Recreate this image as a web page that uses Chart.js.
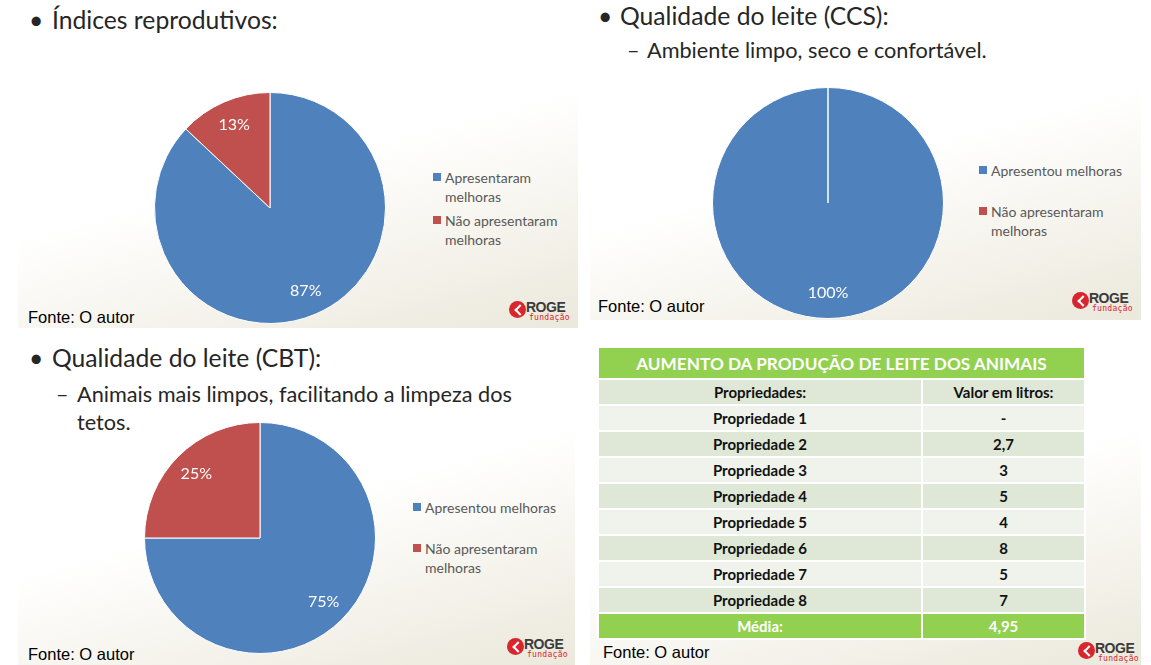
<!DOCTYPE html>
<html>
<head>
<meta charset="utf-8">
<script src="https://cdn.jsdelivr.net/npm/chart.js@4.4.1/dist/chart.umd.min.js"></script>
<style>
  html, body { margin: 0; padding: 0; background: #fff; }
  body { width: 1151px; height: 665px; position: relative; overflow: hidden; font-family: Lato, "Open Sans", sans-serif; }
  .panel { position: absolute; background: linear-gradient(165deg, #ffffff 0%, #ffffff 50%, #f4f2ea 78%, #ebe8dc 100%); }
  .abs { position: absolute; white-space: nowrap; }
  .titulo { font-size: 24.7px; color: #262626; }
  .sub { font-size: 21.7px; color: #262626; }
  .fonte { font-family: "Liberation Sans", Arial, sans-serif; font-size: 16.5px; color: #000; }
  .legenda { position: absolute; font-size: 14px; color: #595959; line-height: 19px; }
  .legenda .item { position: relative; padding-left: 12px; }
  .legenda .sq { position: absolute; left: 0; top: 5px; width: 8px; height: 8px; }
  .logo { position: absolute; width: 62px; height: 24px; }
  .logo .circ { position: absolute; left: 0; top: 2px; width: 17px; height: 17px; border-radius: 50%; background: #d7262e; }
  .logo .circ::after { content: ''; position: absolute; left: 7px; top: 5px; width: 6px; height: 6px; border-top: 2px solid #fff; border-right: 2px solid #fff; transform: rotate(-135deg); }
  .logo .roge { position: absolute; left: 17px; top: 0; font: bold 14px "Liberation Sans", Arial, sans-serif; color: #3b3b3b; letter-spacing: -0.5px; }
  .logo .fund { position: absolute; left: 20px; top: 14px; font: 8px "DejaVu Sans Mono", monospace; color: #d7262e; letter-spacing: 0.3px; }
  canvas { position: absolute; }
  table { position: absolute; left: 597px; top: 346px; width: 489px; border-collapse: collapse; font-weight: bold; font-size: 15px; }
  td { text-align: center; border: 2px solid #fff; padding: 0; height: 24px; color: #111; }
  td.c1 { width: 322px; }
  tr.tit td { background: #92d050; color: #fff; font-size: 17.2px; height: 30px; }
  tr.esc td { background: #dfe8d6; }
  tr.cla td { background: #eff3eb; }
  tr.med td { background: #92d050; color: #fff; }
</style>
</head>
<body>
<div class="panel" style="left:18px; top:0; width:560px; height:328px;"></div>
<div class="panel" style="left:590px; top:0; width:551px; height:320px;"></div>
<div class="panel" style="left:18px; top:340px; width:557px; height:325px;"></div>
<div class="panel" style="left:590px; top:340px; width:551px; height:325px;"></div>

<div class="abs titulo" style="left:29px; top:5px;">•</div>
<div class="abs titulo" style="left:52px; top:5px;">Índices reprodutivos:</div>
<div class="abs titulo" style="left:598px; top:1px;">•</div>
<div class="abs titulo" style="left:620px; top:1px;">Qualidade do leite (CCS):</div>
<div class="abs sub" style="left:627px; top:37px;">–</div>
<div class="abs sub" style="left:647px; top:37px;">Ambiente limpo, seco e confortável.</div>
<div class="abs titulo" style="left:29px; top:343px;">•</div>
<div class="abs titulo" style="left:52px; top:343px;">Qualidade do leite (CBT):</div>
<div class="abs sub" style="left:56px; top:381px;">–</div>
<div class="abs sub" style="left:77px; top:381px;">Animais mais limpos, facilitando a limpeza dos</div>
<div class="abs sub" style="left:77px; top:409px;">tetos.</div>

<canvas id="pie1" width="232" height="232" style="left:154px; top:92px;"></canvas>
<canvas id="pie2" width="232" height="232" style="left:712px; top:87px;"></canvas>
<canvas id="pie3" width="232" height="232" style="left:144px; top:422px;"></canvas>

<div class="legenda" id="leg1" style="left:433px; top:168px;"></div>
<div class="legenda" id="leg2" style="left:979px; top:161px;"></div>
<div class="legenda" id="leg3" style="left:413px; top:498px;"></div>

<div class="abs fonte" style="left:28px; top:308px;">Fonte: O autor</div>
<div class="abs fonte" style="left:598px; top:297px;">Fonte: O autor</div>
<div class="abs fonte" style="left:28px; top:645px;">Fonte: O autor</div>
<div class="abs fonte" style="left:603px; top:643px;">Fonte: O autor</div>

<div class="logo" style="left:509px; top:299px;"><span class="circ"></span><span class="roge">ROGE</span><span class="fund">fundação</span></div>
<div class="logo" style="left:1072px; top:290px;"><span class="circ"></span><span class="roge">ROGE</span><span class="fund">fundação</span></div>
<div class="logo" style="left:507px; top:636px;"><span class="circ"></span><span class="roge">ROGE</span><span class="fund">fundação</span></div>
<div class="logo" style="left:1078px; top:640px;"><span class="circ"></span><span class="roge">ROGE</span><span class="fund">fundação</span></div>

<table id="tabela"></table>

<script>
// dados
const reprodLabels = [['Apresentaram', 'melhoras'], ['Não apresentaram', 'melhoras']];
const reprodValores = [87, 13];
const ccsLabels = [['Apresentou melhoras'], ['Não apresentaram', 'melhoras']];
const ccsValores = [100, 0];
const cbtLabels = [['Apresentou melhoras'], ['Não apresentaram', 'melhoras']];
const cbtValores = [75, 25];
const cores = ['#4f81bd', '#c0504d'];

const tabelaTitulo = 'AUMENTO DA PRODUÇÃO DE LEITE DOS ANIMAIS';
const colunas = ['Propriedades:', 'Valor em litros:'];
const propriedades = ['Propriedade  1', 'Propriedade  2', 'Propriedade  3', 'Propriedade  4', 'Propriedade  5', 'Propriedade  6', 'Propriedade  7', 'Propriedade  8'];
const litros = ['-', '2,7', '3', '5', '4', '8', '5', '7'];
const media = ['Média:', '4,95'];

// rotulos de porcentagem dentro das fatias
const rotulosPct = {
  id: 'rotulosPct',
  afterDatasetsDraw(chart) {
    const ctx = chart.ctx;
    const meta = chart.getDatasetMeta(0);
    const dados = chart.data.datasets[0].data;
    const total = dados.reduce((a, b) => a + b, 0);
    ctx.save();
    ctx.font = '16px Lato, sans-serif';
    ctx.fillStyle = '#fff';
    ctx.textAlign = 'center';
    ctx.textBaseline = 'middle';
    meta.data.forEach((arc, i) => {
      if (!dados[i]) return;
      const p = arc.getProps(['x', 'y', 'startAngle', 'endAngle', 'outerRadius'], true);
      const meio = (p.startAngle + p.endAngle) / 2;
      const r = p.outerRadius * 0.78;
      ctx.fillText(Math.round(dados[i] / total * 100) + '%', p.x + Math.cos(meio) * r, p.y + Math.sin(meio) * r);
    });
    ctx.restore();
  }
};

function pizza(id, labels, valores, legId) {
  new Chart(document.getElementById(id), {
    type: 'pie',
    data: {
      labels: labels.map(l => l.join(' ')),
      datasets: [{ data: valores, backgroundColor: cores, borderColor: '#fff', borderWidth: 1 }]
    },
    options: {
      responsive: false,
      animation: false,
      layout: { padding: 0 },
      plugins: { legend: { display: false }, tooltip: { enabled: false } }
    },
    plugins: [rotulosPct]
  });
  const leg = document.getElementById(legId);
  leg.innerHTML = labels.map((l, i) => `
    <div class="item" style="margin-bottom:${i === 0 ? (l.length === 1 ? 22 : 5) : 0}px">
      <span class="sq" style="background:${cores[i]}"></span>${l.join('<br>')}
    </div>`).join('');
}

pizza('pie1', reprodLabels, reprodValores, 'leg1');
pizza('pie2', ccsLabels, ccsValores, 'leg2');
pizza('pie3', cbtLabels, cbtValores, 'leg3');

const tab = document.getElementById('tabela');
tab.innerHTML = `
  <tr class="tit"><td colspan="2">${tabelaTitulo}</td></tr>
  <tr class="esc"><td class="c1">${colunas[0]}</td><td>${colunas[1]}</td></tr>
  ${propriedades.map((p, i) => `<tr class="${i % 2 ? 'esc' : 'cla'}"><td class="c1">${p}</td><td>${litros[i]}</td></tr>`).join('')}
  <tr class="med"><td class="c1">${media[0]}</td><td>${media[1]}</td></tr>`;
</script>
</body>
</html>
